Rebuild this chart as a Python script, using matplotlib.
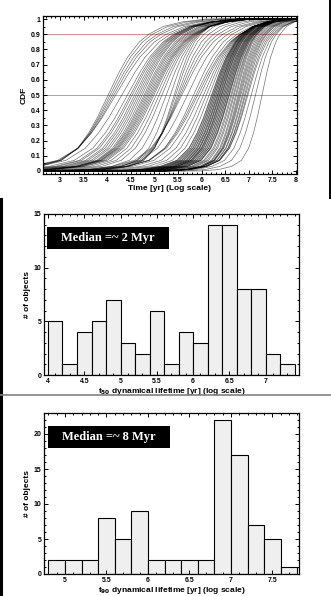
import numpy as np
import matplotlib
matplotlib.use("Agg")
import matplotlib.pyplot as plt
from matplotlib.ticker import MultipleLocator, FuncFormatter
from matplotlib.lines import Line2D
from matplotlib.patches import Rectangle

plt.rcParams['font.family'] = ['Liberation Sans', 'DejaVu Sans']
plt.rcParams['font.weight'] = 'bold'

W, H = 331, 596

# --- data -------------------------------------------------------------
# log10 time where each object's CDF reaches 0.5 and 0.9 (one entry per curve)
t50_curves = [4.02, 4.06, 4.10, 4.14, 4.18, 4.31, 4.43, 4.49, 4.53, 4.58,
              4.62, 4.66, 4.70, 4.74, 4.78, 4.81, 4.84, 4.87, 4.90, 4.93,
              4.96, 4.99, 5.04, 5.10, 5.16, 5.25, 5.34, 5.42, 5.45, 5.49,
              5.52, 5.55, 5.58, 5.70, 5.83, 5.88, 5.92, 5.97, 6.04, 6.10,
              6.16, 6.21, 6.22, 6.24, 6.25, 6.27, 6.28, 6.30, 6.31, 6.33,
              6.34, 6.35, 6.37, 6.38, 6.39, 6.41, 6.42, 6.43, 6.45, 6.46,
              6.48, 6.49, 6.51, 6.52, 6.54, 6.55, 6.57, 6.58, 6.59, 6.62,
              6.64, 6.67, 6.69, 6.72, 6.74, 6.77, 6.79, 6.81, 6.83, 6.86,
              6.88, 6.91, 6.93, 6.96, 6.98, 7.05, 7.14, 7.28]
t90_curves = [4.88, 4.96, 5.06, 5.14, 5.25, 5.34, 5.41, 5.43, 5.46, 5.48,
              5.51, 5.53, 5.56, 5.58, 5.63, 5.67, 5.70, 5.74, 5.78, 5.81,
              5.83, 5.85, 5.87, 5.89, 5.91, 5.93, 5.95, 5.98, 6.05, 6.15,
              6.25, 6.35, 6.45, 6.55, 6.65, 6.75, 6.81, 6.82, 6.82, 6.83,
              6.84, 6.85, 6.86, 6.87, 6.87, 6.88, 6.89, 6.90, 6.91, 6.92,
              6.92, 6.93, 6.94, 6.95, 6.96, 6.97, 6.98, 6.99, 7.01, 7.02,
              7.03, 7.04, 7.05, 7.06, 7.07, 7.08, 7.09, 7.10, 7.11, 7.12,
              7.13, 7.15, 7.16, 7.17, 7.19, 7.22, 7.25, 7.28, 7.31, 7.33,
              7.36, 7.38, 7.42, 7.46, 7.50, 7.54, 7.58, 7.66]

# common CDF profile: level vs offset in units of (t90 - t50)
cdf_levels = [0.0, 0.01, 0.03, 0.07, 0.15, 0.25, 0.35, 0.5,
              0.65, 0.75, 0.85, 0.9, 0.95, 0.98, 1.0]
cdf_offsets = [-3.4, -2.4, -1.7, -1.15, -0.75, -0.48, -0.27, 0.0,
               0.27, 0.48, 0.77, 1.0, 1.35, 1.8, 2.4]

# histograms (bin width 0.2 dex)
t50_edges_start = 4.0
t50_counts = [5, 1, 4, 5, 7, 3, 2, 6, 1, 4, 3, 14, 14, 8, 8, 2, 1]
t90_edges_start = 4.8
t90_counts = [2, 2, 2, 8, 5, 9, 2, 2, 2, 2, 22, 17, 7, 5, 1]
bin_width = 0.2

median_t50 = "Median =~ 2 Myr"
median_t90 = "Median =~ 8 Myr"


def px_axes(l, t, r, b):
    return fig.add_axes([l / W, 1 - b / H, (r - l) / W, (b - t) / H])


def style(ax, xmajor, xminor, ymajor, yminor):
    ax.xaxis.set_major_locator(MultipleLocator(xmajor))
    ax.xaxis.set_minor_locator(MultipleLocator(xminor))
    ax.yaxis.set_major_locator(MultipleLocator(ymajor))
    ax.yaxis.set_minor_locator(MultipleLocator(yminor))
    fmt = FuncFormatter(lambda v, p: "%g" % round(v, 3))
    ax.xaxis.set_major_formatter(fmt)
    ax.yaxis.set_major_formatter(fmt)
    ax.tick_params(which='both', direction='in', top=True, right=True,
                   labelsize=5, width=0.7, pad=2)
    ax.tick_params(which='major', length=3)
    ax.tick_params(which='minor', length=1.5)
    for s in ax.spines.values():
        s.set_linewidth(0.9)
    for lab in ax.get_xticklabels() + ax.get_yticklabels():
        lab.set_fontweight('bold')


fig = plt.figure(figsize=(W / 100, H / 100), dpi=100)

# --- top: CDF curves ---------------------------------------------------
ax1 = px_axes(43, 16, 297, 174)
lev = np.array(cdf_levels)
off = np.array(cdf_offsets)
ax1.axhline(0.5, color='#dc8f8f', lw=0.7, zorder=1)
ax1.axhline(0.9, color='#dc8f8f', lw=0.7, zorder=1)
for a, b in zip(t50_curves, t90_curves):
    x = a + (b - a) * off
    ax1.plot(np.r_[0, x, 10], np.r_[0, lev, 1], color='black', lw=0.5,
             alpha=0.55, zorder=2)
ax1.set_xlim(2.64, 8.02)
ax1.set_ylim(-0.02, 1.02)
style(ax1, 0.5, 0.1, 0.1, 0.05)
ax1.set_xlabel("Time [yr] (Log scale)", fontsize=6, fontweight='bold',
               labelpad=1)
ax1.set_ylabel("CDF", fontsize=6, fontweight='bold', labelpad=2)


# --- histograms --------------------------------------------------------
def hist_panel(ax, start, counts, xlim, ylim, xlabel, note, box_x):
    left = start + bin_width * np.arange(len(counts))
    ax.bar(left, counts, width=bin_width, align='edge', color='#efefef',
           edgecolor='black', linewidth=0.8)
    ax.set_xlim(*xlim)
    ax.set_ylim(*ylim)
    style(ax, 0.5, 0.1, 5, 1)
    ax.set_xlabel(xlabel, fontsize=6, fontweight='bold', labelpad=1)
    ax.set_ylabel("# of objects", fontsize=6, fontweight='bold', labelpad=2)
    ax.add_patch(Rectangle((box_x, 0.785), 0.48, 0.137,
                           transform=ax.transAxes, facecolor='black',
                           edgecolor='none', zorder=5))
    ax.text(box_x + 0.24, 0.785 + 0.0685, note, transform=ax.transAxes,
            ha='center', va='center', color='white', fontsize=9,
            fontweight='bold', family=['Liberation Serif', 'DejaVu Serif'],
            zorder=6)


ax2 = px_axes(44, 214, 299, 375)
hist_panel(ax2, t50_edges_start, t50_counts, (3.945, 7.46), (0, 15),
           r"t$_{50}$ dynamical lifetime [yr] (log scale)", median_t50, 0.01)

ax3 = px_axes(44, 413, 299, 574)
hist_panel(ax3, t90_edges_start, t90_counts, (4.747, 7.82), (0, 23),
           r"t$_{90}$ dynamical lifetime [yr] (log scale)", median_t90, 0.016)

# --- panel frame lines of the composite --------------------------------
def fig_line(x0, y0, x1, y1, color, lw):
    fig.add_artist(Line2D([x0 / W, x1 / W], [1 - y0 / H, 1 - y1 / H],
                          transform=fig.transFigure, color=color, lw=lw))


fig_line(329.5, 0, 329.5, 198, 'black', 1.4)
fig_line(1.0, 199, 1.0, 596, 'black', 2.2)
fig_line(0, 395, 331, 395, '#808080', 1.2)

fig.savefig("out.png", dpi=100)
